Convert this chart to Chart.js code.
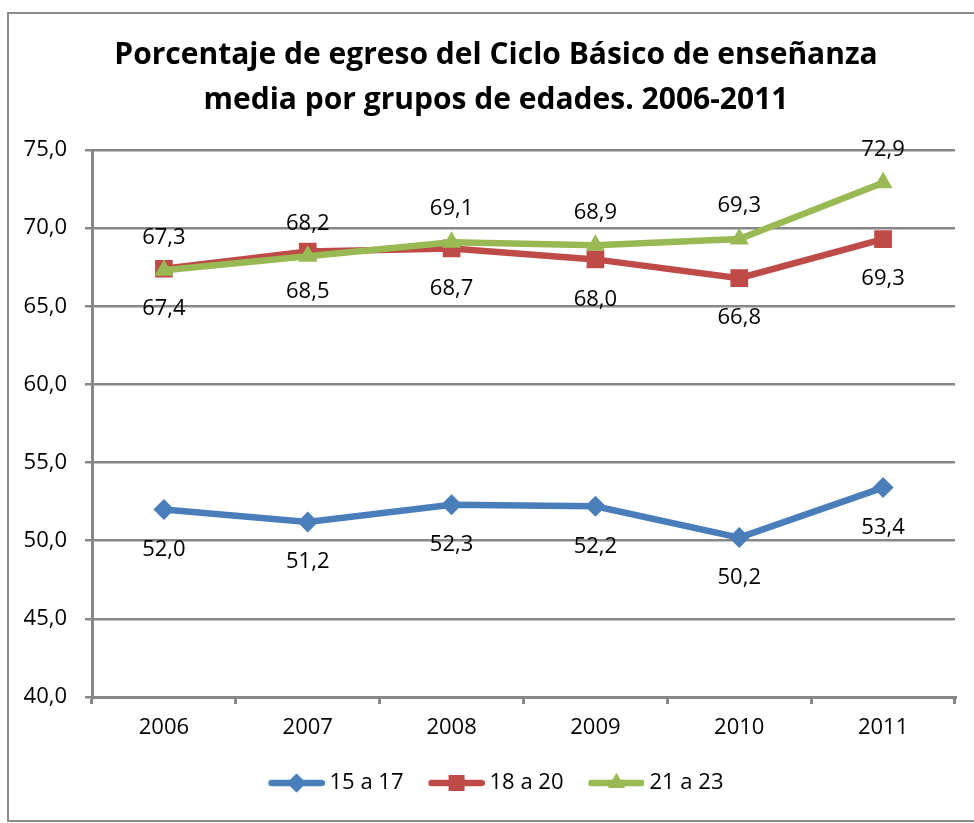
<!DOCTYPE html>
<html>
<head>
<meta charset="utf-8">
<script src="https://cdn.jsdelivr.net/npm/chart.js@4/dist/chart.umd.min.js"></script>
<style>
  html, body { margin: 0; padding: 0; background: #fff; overflow: hidden; }
  #wrap { position: relative; width: 974px; height: 823px; }
  #frame { position: absolute; left: 7px; top: 12px; width: 990px; height: 806px; border: 2px solid #8c8c8c; box-sizing: content-box; pointer-events: none; }
  canvas { position: absolute; left: 0; top: 0; }
</style>
</head>
<body>
<div id="wrap">
  <div id="frame"></div>
  <canvas id="c" width="974" height="823"></canvas>
</div>
<script>
const categories = ['2006', '2007', '2008', '2009', '2010', '2011'];
const seriesNames = ['15 a 17', '18 a 20', '21 a 23'];
const serie15a17 = [52.0, 51.2, 52.3, 52.2, 50.2, 53.4];
const serie18a20 = [67.4, 68.5, 68.7, 68.0, 66.8, 69.3];
const serie21a23 = [67.3, 68.2, 69.1, 68.9, 69.3, 72.9];
const yTicks = [40, 45, 50, 55, 60, 65, 70, 75];
const titleLines = ['Porcentaje de egreso del Ciclo Básico de enseñanza', 'media por grupos de edades. 2006-2011'];

const FONT = "'Open Sans', 'Liberation Sans', sans-serif";
const colors = ['#4A7EBB', '#BE4B48', '#98B954'];
const styles = ['rectRot', 'rect', 'triangle'];
const radii = [10.5, 12.5, 11];
const labelPos = ['below', 'below', 'above'];

function fmt(v) { return v.toFixed(1).replace('.', ','); }

function legendIcon(color, style, r) {
  const cv = document.createElement('canvas');
  cv.width = 62; cv.height = 26;
  const g = cv.getContext('2d');
  g.strokeStyle = color; g.lineWidth = 6.5; g.lineCap = 'round';
  g.beginPath(); g.moveTo(9, 13); g.lineTo(59, 13); g.stroke();
  g.fillStyle = color;
  Chart.helpers.drawPoint(g, { pointStyle: style, radius: r * 0.9, rotation: 0, borderWidth: 0 }, 34, 13);
  g.fill();
  return cv;
}

const dataLabels = {
  id: 'dataLabels',
  afterDatasetsDraw(chart) {
    const ctx = chart.ctx;
    ctx.save();
    ctx.font = "22px " + FONT;
    ctx.fillStyle = '#000';
    ctx.textAlign = 'center';
    ctx.textBaseline = 'middle';
    chart.data.datasets.forEach((ds, di) => {
      const meta = chart.getDatasetMeta(di);
      meta.data.forEach((pt, i) => {
        const dy = labelPos[di] === 'above' ? -33 : 40;
        ctx.fillText(fmt(ds.data[i]), pt.x, pt.y + dy);
      });
    });
    ctx.restore();
  }
};

// shift the title and legend blocks so they are centred like the original
const blockShift = {
  id: 'blockShift',
  afterLayout(chart) {
    if (chart.titleBlock) { chart.titleBlock.left = 37; }
    if (chart.legend) { chart.legend.left = 37; }
  }
};

const allSeries = [serie15a17, serie18a20, serie21a23];
const datasets = allSeries.map((d, i) => ({
  label: seriesNames[i],
  data: d,
  borderColor: colors[i],
  backgroundColor: colors[i],
  borderWidth: 6.5,
  pointStyle: styles[i],
  pointRadius: radii[i],
  pointHoverRadius: radii[i],
  pointBorderWidth: 0,
  pointBackgroundColor: colors[i],
  tension: 0,
  order: i === 2 ? -1 : 0
}));

const icons = colors.map((c, i) => legendIcon(c, styles[i], radii[i]));

new Chart(document.getElementById('c'), {
  type: 'line',
  data: { labels: categories, datasets },
  options: {
    responsive: false,
    animation: false,
    devicePixelRatio: 1,
    layout: { padding: { left: 20, right: 19, top: 12, bottom: 19 } },
    plugins: {
      title: {
        display: true,
        text: titleLines,
        color: '#000',
        font: { family: FONT, size: 30, weight: 'bold', lineHeight: 1.5 },
        padding: { top: 21, bottom: 27 }
      },
      legend: {
        display: true,
        position: 'bottom',
        labels: {
          color: '#000',
          font: { family: FONT, size: 22 },
          usePointStyle: true,
          pointStyleWidth: 50,
          padding: 25,
          generateLabels(chart) {
            return chart.data.datasets.map((ds, i) => ({
              text: ds.label,
              pointStyle: icons[i],
              fillStyle: colors[i],
              strokeStyle: colors[i],
              lineWidth: 0,
              hidden: false,
              datasetIndex: i,
              fontColor: '#000'
            }));
          }
        }
      },
      tooltip: { enabled: false }
    },
    scales: {
      x: {
        offset: true,
        grid: { offset: true, drawOnChartArea: false, drawTicks: true, tickLength: 7, color: '#878787', lineWidth: 3 },
        border: { display: true, color: '#878787', width: 3 },
        ticks: { color: '#000', font: { family: FONT, size: 22 }, padding: 11 },
        afterFit(scale) { scale.height = 50; }
      },
      y: {
        min: 40, max: 75,
        afterBuildTicks(scale) { scale.ticks = yTicks.map(v => ({ value: v })); },
        grid: { color: '#878787', lineWidth: 2.5, tickLength: 7, drawTicks: true },
        border: { display: true, color: '#878787', width: 3 },
        ticks: { color: '#000', font: { family: FONT, size: 22 }, padding: 18, callback: v => fmt(v) },
        afterFit(scale) { scale.width = 72; }
      }
    }
  },
  plugins: [dataLabels, blockShift]
});
</script>
</body>
</html>
